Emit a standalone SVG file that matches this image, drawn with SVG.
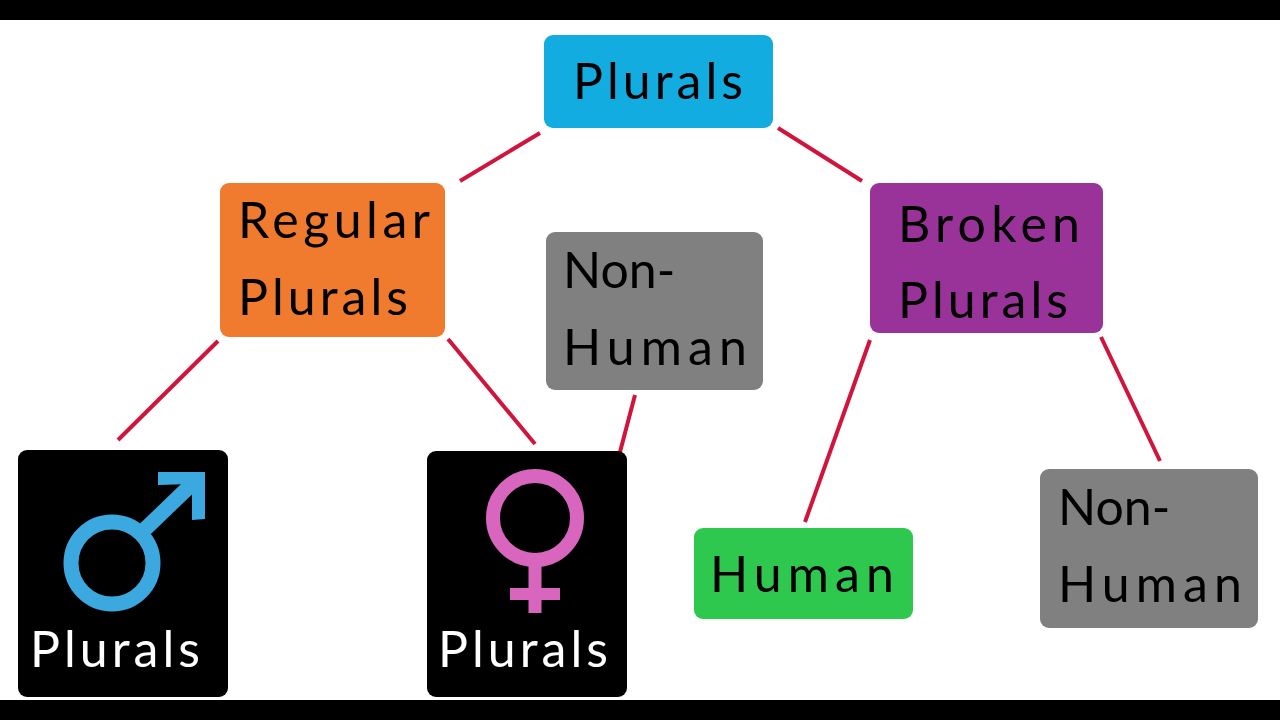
<svg xmlns="http://www.w3.org/2000/svg" width="1280" height="720" viewBox="0 0 1280 720">
<style>
.t{font-family:Lato,"Open Sans",sans-serif;font-size:50px;fill:#000}
.w{font-family:Lato,"Open Sans",sans-serif;font-size:50px;fill:#fff}
.c{stroke:#D0143C;stroke-width:4;fill:none}
</style>
<rect width="1280" height="720" fill="#fff"/>
<rect width="1280" height="20" fill="#000"/>
<rect y="700" width="1280" height="20" fill="#000"/>
<g id="connectors">
<line class="c" x1="540" y1="133" x2="460" y2="181"/>
<line class="c" x1="778" y1="128" x2="862" y2="181"/>
<line class="c" x1="218" y1="341" x2="118" y2="440"/>
<line class="c" x1="448" y1="339" x2="535" y2="444"/>
<line class="c" x1="635" y1="395" x2="620" y2="452"/>
<line class="c" x1="870" y1="340" x2="805" y2="522"/>
<line class="c" x1="1101" y1="337" x2="1160" y2="461"/>
</g>
<g id="plurals"><rect x="544" y="35" width="229" height="93" rx="9" fill="#12ACE0"/><text class="t" x="658" y="99" text-anchor="middle" textLength="170">Plurals</text></g>
<g id="regular"><rect x="220" y="183" width="225" height="154" rx="9" fill="#F07A2E"/><text class="t" x="238" y="238" textLength="192">Regular</text><text class="t" x="238" y="315" textLength="170">Plurals</text></g>
<g id="nonhuman1"><rect x="546" y="232" width="217" height="158" rx="9" fill="#808080"/><text class="t" x="563" y="288">Non-</text><text class="t" x="563" y="365" textLength="184">Human</text></g>
<g id="broken"><rect x="870" y="183" width="233" height="150" rx="9" fill="#993399"/><text class="t" x="898" y="242" textLength="182">Broken</text><text class="t" x="898" y="318" textLength="170">Plurals</text></g>
<g id="male"><rect x="18" y="450" width="210" height="247" rx="9" fill="#000"/>
<circle cx="112" cy="563" r="41" stroke="#3BA9E0" stroke-width="15" fill="none"/>
<line x1="140" y1="534" x2="192" y2="484" stroke="#3BA9E0" stroke-width="15"/>
<polygon points="158,472 205,472 205,519 192,520 192,484 158,485" fill="#3BA9E0"/>
<text class="w" x="30" y="667" textLength="170">Plurals</text></g>
<g id="female"><rect x="427" y="451" width="200" height="246" rx="9" fill="#000"/>
<circle cx="535" cy="518" r="42" stroke="#D966BE" stroke-width="14" fill="none"/>
<line x1="535" y1="560" x2="535" y2="613" stroke="#D966BE" stroke-width="13"/>
<line x1="510" y1="594" x2="560" y2="594" stroke="#D966BE" stroke-width="12"/>
<text class="w" x="438" y="667" textLength="170">Plurals</text></g>
<g id="human"><rect x="694" y="528" width="219" height="91" rx="9" fill="#2DC84D"/><text class="t" x="710" y="592" textLength="184">Human</text></g>
<g id="nonhuman2"><rect x="1040" y="469" width="218" height="159" rx="9" fill="#808080"/><text class="t" x="1058" y="525">Non-</text><text class="t" x="1058" y="602" textLength="184">Human</text></g>
</svg>
